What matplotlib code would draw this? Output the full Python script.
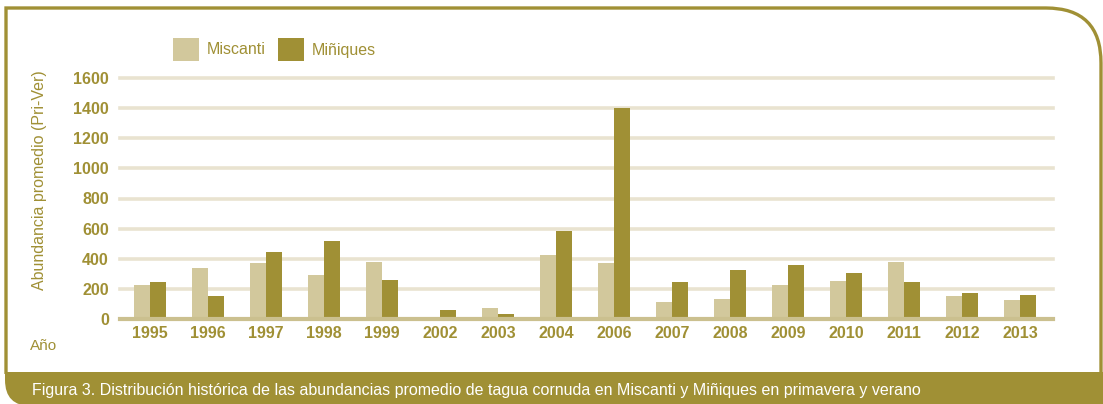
import matplotlib
matplotlib.use("Agg")
import matplotlib.pyplot as plt
import numpy as np
from matplotlib.path import Path
from matplotlib.patches import PathPatch

plt.rcParams['font.family'] = ['Liberation Sans', 'DejaVu Sans']

years = ['1995', '1996', '1997', '1998', '1999', '2002', '2003', '2004',
         '2006', '2007', '2008', '2009', '2010', '2011', '2012', '2013']
miscanti = [225, 340, 374, 293, 380, 0, 70, 428,
            374, 110, 130, 225, 253, 380, 151, 124]
miniques = [245, 151, 448, 515, 259, 63, 30, 583,
            1400, 245, 326, 360, 306, 245, 171, 158]
yticks = [0, 200, 400, 600, 800, 1000, 1200, 1400, 1600]

olive = '#A09035'
light = '#D2C89C'
grid_c = '#E9E3D0'
base_c = '#CBC08F'

W, H = 1103, 404
fig = plt.figure(figsize=(W / 100, H / 100), dpi=100)

# decoration layer in pixel coords
bg = fig.add_axes([0, 0, 1, 1])
bg.set_xlim(0, W)
bg.set_ylim(H, 0)
bg.axis('off')

# outer frame with rounded top-right corner
r = 55
verts = [(6, 374), (6, 8), (W - 2 - r, 8), (W - 2, 8), (W - 2, 8 + r), (W - 2, 374)]
codes = [Path.MOVETO, Path.LINETO, Path.LINETO, Path.CURVE3, Path.CURVE3, Path.LINETO]
bg.add_patch(PathPatch(Path(verts, codes), facecolor='none', edgecolor=olive, lw=2.4))

# caption band with rounded bottom-left corner
rb = 26
bverts = [(5, 372), (W + 2, 372), (W + 2, H + 2), (5 + rb, H + 2), (5, H + 2),
          (5, H + 2 - rb), (5, 372)]
bcodes = [Path.MOVETO, Path.LINETO, Path.LINETO, Path.LINETO, Path.CURVE3,
          Path.CURVE3, Path.CLOSEPOLY]
bg.add_patch(PathPatch(Path(bverts, bcodes), facecolor=olive, edgecolor='none'))
bg.text(32, 390, 'Figura 3. Distribución histórica de las abundancias promedio de tagua cornuda '
        'en Miscanti y Miñiques en primavera y verano',
        color='white', fontsize=11.5, va='center', ha='left')
bg.text(30, 346, 'Año', color=olive, fontsize=11, va='center', ha='left')

# legend
bg.add_patch(plt.Rectangle((173, 38), 26, 23, facecolor=light, edgecolor='none'))
bg.text(207, 50, 'Miscanti', color=olive, fontsize=11.5, va='center', ha='left')
bg.add_patch(plt.Rectangle((278, 38), 26, 23, facecolor=olive, edgecolor='none'))
bg.text(312, 50, 'Miñiques', color=olive, fontsize=11.5, va='center', ha='left')

# main chart
x0, x1, yb, yt = 120, 1053, 319, 78
ax = fig.add_axes([x0 / W, 1 - yb / H, (x1 - x0) / W, (yb - yt) / H])
ax.patch.set_alpha(0)
for s in ax.spines.values():
    s.set_visible(False)

x = np.arange(len(years))
bw = 0.27
ax.set_xlim(-0.517, 15.57)
ax.set_ylim(0, 1600)
for t in yticks[1:]:
    ax.axhline(t, color=grid_c, lw=2.6, clip_on=False, zorder=0)
ax.axhline(0, color=base_c, lw=3, clip_on=False, zorder=3)

ax.bar(x - bw / 2, miscanti, bw, color=light, zorder=2)
ax.bar(x + bw / 2, miniques, bw, color=olive, zorder=2)

ax.set_xticks(x)
ax.set_xticklabels(years)
ax.set_yticks(yticks)
ax.tick_params(length=0, labelcolor=olive, labelsize=11.5)
ax.tick_params(axis='y', pad=8)
ax.tick_params(axis='x', pad=5)
for lab in ax.get_xticklabels() + ax.get_yticklabels():
    lab.set_fontweight('bold')

bg.text(40, 180, 'Abundancia promedio (Pri-Ver)', color=olive, fontsize=11.5,
        rotation=90, va='center', ha='center')

fig.savefig('out.png', dpi=100)
